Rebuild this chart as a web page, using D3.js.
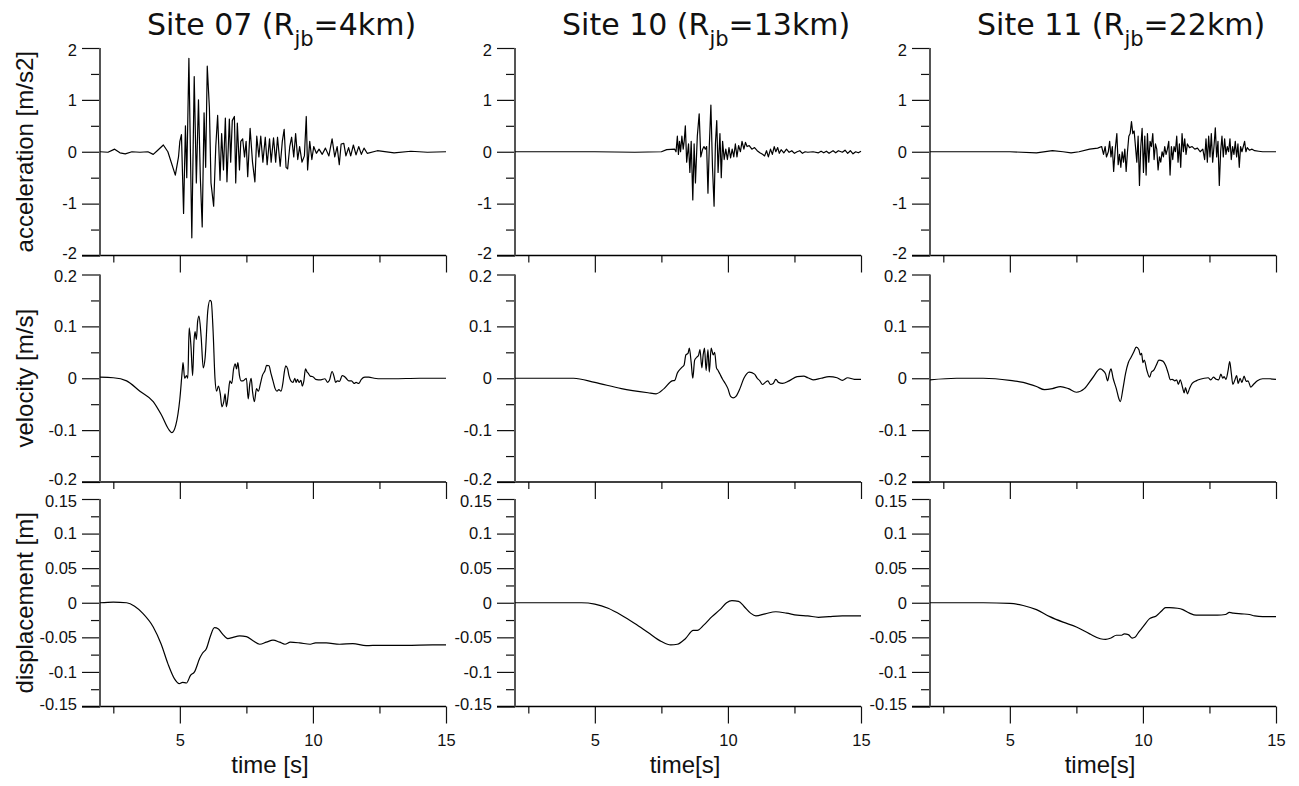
<!DOCTYPE html>
<html><head><meta charset="utf-8">
<script src="https://cdn.jsdelivr.net/npm/d3@7"></script>
<style>body{margin:0;background:#fff}svg{display:block}</style>
</head><body>
<svg id="chart" width="1299" height="786"></svg>
<script>
// ---------------- data ----------------
const siteTitles = ["Site 07 (R|jb|=4km)", "Site 10 (R|jb|=13km)", "Site 11 (R|jb|=22km)"];
const rowLabels = ["acceleration [m/s2]", "velocity [m/s]", "displacement [m]"];
const timeLabels = ["time [s]", "time[s]", "time[s]"];
const timeDomain = [2, 15];
const timeMajorTicks = [5, 10, 15];
const timeMinorTicks = [2.5, 7.5, 12.5];
const accDomain = [-2, 2];
const accTicks = [2, 1, 0, -1, -2];
const accTickLabels = ["2", "1", "0", "-1", "-2"];
const accMinor = [1.5, 0.5, -0.5, -1.5];
const velDomain = [-0.2, 0.2];
const velTicks = [0.2, 0.1, 0, -0.1, -0.2];
const velTickLabels = ["0.2", "0.1", "0", "-0.1", "-0.2"];
const velMinor = [0.15, 0.05, -0.05, -0.15];
const dispDomain = [-0.15, 0.15];
const dispTicks = [0.15, 0.1, 0.05, 0, -0.05, -0.1, -0.15];
const dispTickLabels = ["0.15", "0.1", "0.05", "0", "-0.05", "-0.1", "-0.15"];
const dispMinor = [0.125, 0.075, 0.025, -0.025, -0.075, -0.125];

const acc07 = [[2,0],[2.3,-0.01],[2.55,0.05],[2.75,-0.02],[2.95,-0.04],[3.2,0],[3.5,-0.01],[3.8,0],[4.0,-0.05],[4.15,0.02],[4.38,0.13],[4.55,0],[4.83,-0.45],[4.95,-0.1],[5.0,0.2],
[5.06,0.33],[5.14,-1.19],[5.21,0.5],[5.26,-0.5],[5.34,1.8],[5.45,-1.66],[5.54,1.45],[5.62,-0.6],[5.70,1.0],[5.77,-0.5],[5.84,-1.45],[5.91,0.75],[5.97,-0.3],[6.03,1.65],[6.11,0.85],[6.17,-0.6],[6.27,-1.05],[6.35,0.1],[6.42,0.7],[6.51,-0.55],[6.57,0.35],[6.64,-0.35],[6.71,0.65],[6.77,-0.58],[6.86,0.63],[6.91,-0.2],[6.97,0.6],[7.05,0.68],[7.10,-0.6],[7.16,0.55],[7.24,-0.35],[7.29,0.2],[7.36,0.25],[7.43,-0.1],[7.49,0.2],[7.55,-0.48],[7.64,0.45],[7.73,-0.2],[7.82,-0.58],[7.89,0.3],[7.97,-0.1],[8.04,0.3],[8.12,-0.2],[8.21,0.28],[8.28,-0.25],[8.37,0.25],[8.43,-0.2],[8.52,0.27],[8.60,-0.2],[8.67,0.28],[8.77,-0.28],[8.85,0.2],[8.92,0.43],[8.99,-0.3],[9.05,-0.33],[9.13,0.1],[9.20,0.28],[9.28,-0.1],[9.35,0.35],[9.43,-0.15],[9.50,0.1],[9.59,-0.2],[9.68,-0.08],[9.75,0.68],[9.80,-0.35],[9.88,0.2],[9.96,-0.15],[10.03,0.1],[10.13,-0.03],[10.23,0.05],[10.35,-0.05],[10.47,0.07],[10.60,-0.08],[10.72,0.25],[10.82,-0.1],[10.91,0.1],[10.99,-0.25],[11.06,0.15],[11.16,0.16],[11.24,-0.08],[11.34,0.08],[11.42,-0.08],[11.52,0.13],[11.62,-0.06],[11.72,0.1],[11.82,-0.05],[11.92,0.07],[12.04,-0.03],[12.42,0.02],[13.05,-0.02],[13.68,0.01],[14.3,-0.01],[15,0]];
const vel07 = [[2,0.002],[2.5,0.001],[3,-0.005],[3.5,-0.025],[4,-0.045],[4.3,-0.07],[4.6,-0.1],[4.7,-0.105],[4.85,-0.09],[5,-0.04],[5.1,0.02],[5.12,0.03],[5.18,0],[5.25,0.005],[5.3,0],[5.35,0.097],[5.42,0.06],[5.48,0.005],[5.53,0.07],[5.57,0.09],[5.62,0.075],[5.67,0.11],[5.72,0.12],[5.8,0.08],[5.88,0.02],[5.95,0.04],[6.05,0.13],[6.13,0.15],[6.18,0.148],[6.25,0.09],[6.32,0],[6.38,-0.025],[6.45,-0.015],[6.52,-0.03],[6.58,-0.055],[6.65,-0.045],[6.7,-0.03],[6.75,-0.055],[6.82,-0.03],[6.88,-0.005],[6.95,-0.01],[7.02,0.018],[7.08,0.028],[7.13,0.018],[7.18,0.03],[7.24,0.005],[7.3,-0.005],[7.38,-0.005],[7.45,-0.002],[7.5,0],[7.57,-0.04],[7.63,-0.01],[7.68,0],[7.73,-0.025],[7.8,-0.045],[7.88,-0.02],[7.95,-0.025],[8.03,-0.01],[8.1,0.005],[8.2,0.015],[8.26,0.025],[8.35,0.024],[8.42,0.01],[8.5,-0.005],[8.58,-0.02],[8.65,-0.025],[8.72,-0.022],[8.8,-0.025],[8.87,-0.01],[8.92,0.01],[8.98,0.024],[9.05,0.018],[9.1,0.005],[9.17,-0.005],[9.25,-0.008],[9.32,0],[9.37,-0.008],[9.42,-0.002],[9.48,-0.008],[9.55,-0.004],[9.6,-0.015],[9.66,-0.005],[9.72,0.018],[9.78,0.012],[9.82,0.01],[9.9,0.004],[10,0.003],[10.1,-0.002],[10.3,-0.003],[10.45,-0.001],[10.55,-0.008],[10.62,-0.004],[10.72,0.013],[10.8,0.002],[10.85,-0.008],[10.92,-0.005],[11,-0.006],[11.1,0.005],[11.17,0.004],[11.25,0],[11.35,-0.005],[11.45,-0.005],[11.55,-0.01],[11.62,-0.008],[11.72,-0.01],[11.82,-0.002],[11.95,0.002],[12.1,0.002],[12.3,0],[12.6,-0.001],[13,-0.001],[14,0],[15,0]];
const disp07 = [[2,0],[2.5,0.001],[3,0],[3.3,-0.005],[3.6,-0.015],[4,-0.035],[4.3,-0.06],[4.55,-0.088],[4.8,-0.11],[4.98,-0.117],[5.1,-0.115],[5.25,-0.116],[5.4,-0.105],[5.55,-0.1],[5.75,-0.08],[5.85,-0.073],[6,-0.066],[6.15,-0.048],[6.3,-0.036],[6.45,-0.038],[6.6,-0.045],[6.8,-0.052],[7,-0.05],[7.25,-0.048],[7.5,-0.049],[7.75,-0.055],[8,-0.06],[8.25,-0.057],[8.5,-0.054],[8.75,-0.057],[8.95,-0.06],[9.15,-0.057],[9.5,-0.058],[9.9,-0.06],[10.1,-0.058],[10.5,-0.058],[11,-0.06],[11.5,-0.059],[12,-0.062],[12.5,-0.0615],[13.5,-0.0615],[14.5,-0.061],[15,-0.061]];

const acc10 = [[2,0],[5,0],[6.5,-0.01],[7.5,0],[7.7,0.04],[8,0.05],[8.05,0],[8.1,0.3],[8.14,-0.05],[8.18,0.2],[8.22,0],[8.27,0.3],[8.32,0.05],[8.36,0.22],[8.4,0.5],[8.45,-0.2],[8.52,0.15],[8.57,-0.4],[8.62,0.2],[8.68,-0.93],[8.73,0.15],[8.78,-0.6],[8.85,0.3],[8.92,0.73],[8.98,-0.1],[9.05,0.05],[9.1,0.1],[9.15,0.05],[9.2,0.1],[9.25,-0.8],[9.3,0.1],[9.36,0.9],[9.42,-0.3],[9.48,-1.05],[9.53,0.15],[9.58,0.6],[9.63,-0.4],[9.7,0.35],[9.75,-0.5],[9.8,0.2],[9.86,-0.15],[9.92,0.05],[9.98,-0.15],[10.04,0.08],[10.1,-0.12],[10.16,0.05],[10.22,-0.1],[10.28,0.15],[10.34,-0.1],[10.4,0.12],[10.47,0],[10.53,0.2],[10.6,0.05],[10.66,0.18],[10.72,0.1],[10.8,0.12],[10.9,0.05],[11,0.08],[11.1,0.02],[11.2,-0.02],[11.3,-0.05],[11.38,-0.08],[11.45,0.02],[11.52,-0.1],[11.6,0.05],[11.67,-0.05],[11.74,0.1],[11.8,0],[11.87,0.08],[11.93,-0.03],[12,0.04],[12.1,-0.02],[12.2,0.05],[12.3,-0.01],[12.4,0.02],[12.5,-0.03],[12.6,0],[12.7,0.02],[12.8,-0.03],[12.9,0],[13,-0.01],[13.2,0],[13.4,-0.02],[13.5,0.01],[13.6,-0.02],[13.7,0.01],[13.8,-0.03],[13.95,0.02],[14.05,-0.02],[14.15,0.02],[14.3,-0.01],[14.4,0.03],[14.5,-0.03],[14.6,0.02],[14.7,-0.04],[14.8,0],[14.9,-0.02],[15,0.01]];
const vel10 = [[2,0],[4.2,0],[5,-0.008],[6,-0.02],[7,-0.028],[7.3,-0.03],[7.6,-0.02],[7.9,-0.005],[8,-0.004],[8.1,0.01],[8.25,0.02],[8.35,0.025],[8.42,0.045],[8.5,0.048],[8.55,0.058],[8.62,0.03],[8.68,0],[8.75,0.035],[8.82,0.04],[8.9,0.045],[8.95,0.055],[9.02,0.02],[9.07,0.045],[9.12,0.058],[9.18,0.015],[9.25,0.055],[9.3,0.012],[9.37,0.058],[9.45,0.045],[9.5,0.05],[9.57,0.02],[9.63,0.015],[9.7,0.008],[9.8,-0.002],[9.9,-0.01],[10,-0.02],[10.1,-0.035],[10.2,-0.038],[10.3,-0.035],[10.45,-0.02],[10.6,0],[10.8,0.012],[11,0.008],[11.1,0],[11.2,-0.005],[11.3,-0.012],[11.4,-0.008],[11.5,-0.005],[11.6,-0.012],[11.7,-0.01],[11.8,-0.002],[11.9,-0.008],[12.05,-0.01],[12.3,-0.005],[12.6,0.003],[12.85,0.004],[13,0.001],[13.2,-0.003],[13.5,0],[13.8,0.003],[14.1,0.001],[14.3,-0.004],[14.5,0.001],[14.75,-0.002],[15,-0.002]];
const disp10 = [[2,0],[4,0],[4.5,0],[5,-0.002],[5.5,-0.008],[6,-0.018],[6.5,-0.03],[7,-0.043],[7.5,-0.056],[7.85,-0.061],[8.1,-0.06],[8.4,-0.052],[8.7,-0.04],[8.85,-0.04],[9.1,-0.032],[9.4,-0.02],[9.7,-0.01],[9.95,0],[10.15,0.003],[10.4,0.002],[10.6,-0.005],[10.85,-0.015],[11.05,-0.019],[11.4,-0.016],[11.8,-0.013],[12.2,-0.015],[12.6,-0.018],[13,-0.019],[13.4,-0.021],[13.8,-0.02],[14.3,-0.019],[15,-0.019]];

const acc11 = [[2,0],[5,0],[6,-0.02],[6.6,0.02],[7,0],[7.3,-0.02],[7.6,0],[8,0.05],[8.3,0.07],[8.45,0.1],[8.52,-0.05],[8.58,0.1],[8.63,-0.1],[8.7,0],[8.75,0.2],[8.8,-0.1],[8.85,0.1],[8.9,-0.38],[8.96,0.05],[9.02,0.35],[9.07,-0.25],[9.12,-0.05],[9.17,-0.3],[9.22,0],[9.27,-0.2],[9.32,0.05],[9.37,-0.38],[9.42,0],[9.47,0.3],[9.52,0.35],[9.57,0.58],[9.62,0.35],[9.67,0.4],[9.72,0.1],[9.77,-0.2],[9.82,0.3],[9.87,-0.65],[9.92,0.1],[9.97,0.45],[10.02,-0.4],[10.07,0.3],[10.12,-0.45],[10.17,0.35],[10.22,-0.2],[10.27,0.2],[10.32,0.1],[10.37,0.35],[10.42,-0.15],[10.47,0.15],[10.52,0.05],[10.57,-0.35],[10.62,-0.1],[10.67,-0.2],[10.72,0],[10.77,-0.1],[10.82,0.1],[10.87,-0.05],[10.92,0.05],[10.97,0.2],[11.02,-0.45],[11.07,0.1],[11.12,-0.15],[11.17,0.1],[11.22,0],[11.27,0.3],[11.32,-0.2],[11.37,0.15],[11.42,-0.3],[11.47,0.35],[11.52,0],[11.57,0.25],[11.62,-0.05],[11.67,0.15],[11.75,0.08],[11.85,0.1],[11.95,0.05],[12.05,0.07],[12.15,0],[12.25,0.05],[12.32,-0.15],[12.37,0.25],[12.42,-0.2],[12.47,0.3],[12.52,-0.1],[12.57,0.35],[12.62,-0.2],[12.67,0.1],[12.72,0.46],[12.77,-0.1],[12.82,0.2],[12.87,-0.65],[12.92,0],[12.97,0.3],[13.02,-0.1],[13.07,0.25],[13.12,-0.05],[13.17,0.1],[13.22,0],[13.27,0.25],[13.32,-0.15],[13.37,0.1],[13.42,-0.05],[13.47,0.2],[13.52,-0.1],[13.57,0.15],[13.62,-0.3],[13.67,0.1],[13.72,0],[13.77,0.1],[13.82,0.2],[13.87,0],[13.92,0.08],[14,0.03],[14.1,0.05],[14.2,0.02],[14.35,0.01],[14.5,0],[15,0]];
const vel11 = [[2,-0.003],[3,0],[4,0],[5,-0.004],[5.5,-0.008],[6,-0.016],[6.3,-0.022],[6.6,-0.02],[6.9,-0.016],[7.2,-0.02],[7.5,-0.027],[7.8,-0.02],[8.1,0],[8.4,0.018],[8.5,0.015],[8.6,0.008],[8.67,-0.005],[8.75,0.012],[8.8,0.018],[8.88,0],[9,-0.02],[9.1,-0.04],[9.15,-0.045],[9.25,-0.02],[9.35,0.01],[9.45,0.03],[9.55,0.04],[9.65,0.05],[9.75,0.06],[9.85,0.055],[9.9,0.045],[9.95,0.048],[10,0.03],[10.05,0.035],[10.15,0.015],[10.25,0.002],[10.32,0.012],[10.4,0.015],[10.5,0.025],[10.6,0.035],[10.75,0.033],[10.85,0.025],[10.95,0.01],[11.03,-0.003],[11.1,-0.002],[11.2,-0.005],[11.27,-0.003],[11.33,-0.012],[11.4,-0.003],[11.5,-0.02],[11.55,-0.028],[11.6,-0.018],[11.67,-0.03],[11.75,-0.02],[11.85,-0.01],[12,-0.005],[12.15,-0.002],[12.3,0],[12.45,0.001],[12.55,-0.003],[12.65,0.002],[12.75,-0.002],[12.85,-0.003],[12.93,0.008],[13,0],[13.05,0.003],[13.12,-0.002],[13.2,0.015],[13.26,0.032],[13.32,0.01],[13.38,-0.012],[13.45,-0.004],[13.52,0.005],[13.58,-0.01],[13.65,0],[13.72,-0.008],[13.8,0.004],[13.88,-0.006],[13.95,-0.005],[14.05,-0.017],[14.15,-0.012],[14.3,-0.005],[14.5,-0.001],[14.75,-0.001],[15,-0.002]];
const disp11 = [[2,0],[4,0],[5,-0.001],[5.5,-0.004],[6,-0.01],[6.5,-0.02],[7,-0.028],[7.5,-0.035],[8,-0.045],[8.4,-0.052],[8.6,-0.053],[8.8,-0.051],[9,-0.047],[9.2,-0.047],[9.3,-0.045],[9.45,-0.046],[9.6,-0.051],[9.7,-0.05],[9.85,-0.042],[10,-0.035],[10.25,-0.023],[10.5,-0.019],[10.7,-0.012],[10.85,-0.007],[11,-0.007],[11.3,-0.008],[11.5,-0.01],[11.75,-0.015],[12,-0.018],[12.4,-0.018],[12.8,-0.018],[13.1,-0.017],[13.25,-0.014],[13.4,-0.015],[13.7,-0.016],[14,-0.017],[14.2,-0.019],[14.5,-0.02],[15,-0.02]];

// ---------------- layout ----------------
const svg = d3.select("#chart");
const colLeft = [100, 515, 930];
const plotW = 346;
const rowTop = [48, 274.5, 499];
const plotH = 207.5;
const tickFont = "'Liberation Sans', Arial, sans-serif";
const tickSize = 16.5;

const rows = [
  {domain: accDomain, ticks: accTicks, labels: accTickLabels, minor: accMinor, series: [acc07, acc10, acc11], curve: d3.curveLinear},
  {domain: velDomain, ticks: velTicks, labels: velTickLabels, minor: velMinor, series: [vel07, vel10, vel11], curve: d3.curveMonotoneX},
  {domain: dispDomain, ticks: dispTicks, labels: dispTickLabels, minor: dispMinor, series: [disp07, disp10, disp11], curve: d3.curveMonotoneX}
];

colLeft.forEach((cx, ci) => {
  const x = d3.scaleLinear().domain(timeDomain).range([cx, cx + plotW]);
  rows.forEach((row, ri) => {
    const y = d3.scaleLinear().domain(row.domain).range([rowTop[ri] + plotH, rowTop[ri]]);
    const g = svg.append("g");

    // y axis (major with labels)
    const yMaj = g.append("g").attr("transform", `translate(${cx},0)`)
      .call(d3.axisLeft(y).tickValues(row.ticks).tickSize(18).tickPadding(5)
        .tickFormat((d, i) => row.labels[i]));
    yMaj.select(".domain").remove();
    yMaj.selectAll("line").attr("stroke", "#111").attr("stroke-width", 1.2);
    const nT = row.ticks.length;
    yMaj.selectAll("text").attr("font-family", tickFont).attr("font-size", tickSize).attr("fill", "#111")
      .attr("y", (d, i) => i === 0 ? 2 : (i === nT - 1 ? -2.5 : 0));
    const yMin = g.append("g").attr("transform", `translate(${cx},0)`)
      .call(d3.axisLeft(y).tickValues(row.minor).tickSize(9).tickFormat(""));
    yMin.select(".domain").remove();
    yMin.selectAll("line").attr("stroke", "#111").attr("stroke-width", 1.2);

    // x axis
    const by = rowTop[ri] + plotH;
    const xMaj = g.append("g").attr("transform", `translate(0,${by})`)
      .call(d3.axisBottom(x).tickValues(timeMajorTicks).tickSize(17).tickPadding(11)
        .tickFormat(ri === 2 ? d3.format("d") : ""));
    xMaj.select(".domain").remove();
    xMaj.selectAll("line").attr("stroke", "#111").attr("stroke-width", 1.2);
    xMaj.selectAll("text").attr("font-family", tickFont).attr("font-size", tickSize).attr("fill", "#111");
    const xMin = g.append("g").attr("transform", `translate(0,${by})`)
      .call(d3.axisBottom(x).tickValues(timeMinorTicks).tickSize(7).tickFormat(""));
    xMin.select(".domain").remove();
    xMin.selectAll("line").attr("stroke", "#111").attr("stroke-width", 1.2);

    // axis lines
    g.append("line").attr("x1", x(timeDomain[0]) - 18).attr("x2", x(timeDomain[1]))
      .attr("y1", by).attr("y2", by).attr("stroke", "#000").attr("stroke-width", 1.3);
    g.append("line").attr("x1", cx).attr("x2", cx)
      .attr("y1", y(row.domain[1])).attr("y2", by).attr("stroke", "#555").attr("stroke-width", 2);

    // data line
    const line = d3.line().curve(row.curve).x(d => x(d[0])).y(d => y(d[1]));
    g.append("path").datum(row.series[ci]).attr("d", line)
      .attr("fill", "none").attr("stroke", "#000").attr("stroke-width", 1.2)
      .attr("stroke-linejoin", "round");

    // row label on first column
    if (ci === 0) {
      const cy = rowTop[ri] + plotH / 2;
      svg.append("text").attr("transform", `translate(33,${cy}) rotate(-90)`)
        .attr("text-anchor", "middle").attr("font-family", tickFont).attr("font-size", 24)
        .attr("fill", "#111").text(rowLabels[ri]);
    }
  });

  // time label
  svg.append("text").attr("x", cx + plotW / 2 - 3).attr("y", 773)
    .attr("text-anchor", "middle").attr("font-family", tickFont).attr("font-size", 24)
    .attr("fill", "#111").text(timeLabels[ci]);

  // title with subscript
  const parts = siteTitles[ci].split("|");
  const t = svg.append("text").attr("x", cx + 47).attr("y", 35)
    .attr("font-family", "'DejaVu Sans', Verdana, sans-serif").attr("font-size", 30).attr("fill", "#111");
  t.append("tspan").text(parts[0]);
  t.append("tspan").attr("font-size", 21).attr("dy", 11).text(parts[1]);
  t.append("tspan").attr("dy", -11).text(parts[2]);
});
</script>
</body></html>
